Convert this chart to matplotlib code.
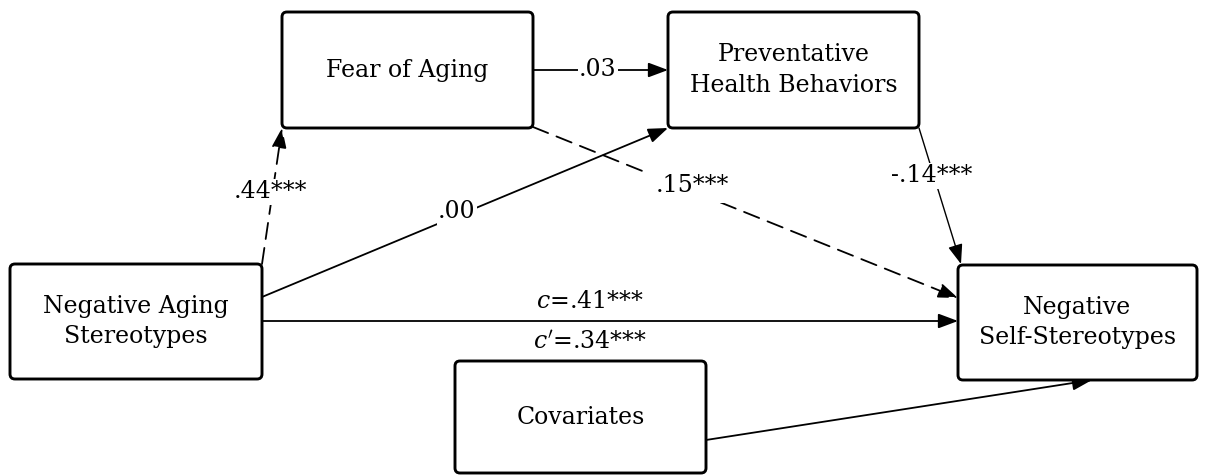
import matplotlib.pyplot as plt
from matplotlib.patches import FancyBboxPatch, FancyArrowPatch

# node labels and path coefficients
nodes = ['Fear of Aging', 'Preventative\nHealth Behaviors', 'Negative Aging\nStereotypes',
         'Negative\nSelf-Stereotypes', 'Covariates']
coef_a1 = '.44***'
coef_a2 = '.00'
coef_d = '.03'
coef_b1 = '.15***'
coef_b2 = '-.14***'
coef_c = r'$c$=.41***'
coef_cp = r"$c'$=.34***"

plt.rcParams['font.family'] = ['DejaVu Serif']
plt.rcParams['mathtext.fontset'] = 'dejavuserif'

fig = plt.figure(figsize=(12.06, 4.75), dpi=100)
ax = fig.add_axes([0, 0, 1, 1])
ax.set_xlim(0, 1206)
ax.set_ylim(475, 0)
ax.axis('off')

# box geometry (x0, y0, x1, y1) in pixels
boxes = [(282, 12, 533, 128), (668, 12, 919, 128), (10, 264, 262, 379),
         (958, 265, 1197, 380), (455, 361, 706, 473)]

for (x0, y0, x1, y1), name in zip(boxes, nodes):
    p = FancyBboxPatch((x0, y0), x1 - x0, y1 - y0, boxstyle='round,pad=0,rounding_size=5',
                       fc='white', ec='black', lw=2.1, zorder=3)
    ax.add_patch(p)
    ty = (y0 + y1) / 2
    if name == 'Fear of Aging':
        ty = 70
    ax.text((x0 + x1) / 2, ty, name, ha='center', va='center', fontsize=17,
            linespacing=1.4, zorder=4)


def arrow(p0, p1, dashed=False, lw=1.3):
    a = FancyArrowPatch(p0, p1, arrowstyle='-|>,head_length=7.5,head_width=2.8',
                        mutation_scale=1.6, lw=lw, color='black',
                        linestyle=(0, (9, 5)) if dashed else '-',
                        shrinkA=0, shrinkB=0, zorder=2)
    ax.add_patch(a)


arrow((262, 264), (282, 128), dashed=True)
arrow((262, 297), (668, 128))
arrow((533, 127), (958, 298), dashed=True)
arrow((533, 70), (668, 70))
arrow((919, 128), (961, 264), lw=1.0)
arrow((262, 321), (958, 321))
arrow((706, 440), (1092, 380))

lab = dict(ha='center', va='center', fontsize=17, zorder=5)
wbg = dict(boxstyle='square,pad=0.05', fc='white', ec='none')
ax.text(270, 192, coef_a1, bbox=wbg, **lab)
ax.text(457, 212, coef_a2, bbox=wbg, **lab)
ax.text(598, 70, coef_d, bbox=wbg, **lab)
ax.text(692, 186, coef_b1, bbox=dict(boxstyle='square,pad=0.25', fc='white', ec='none'), **lab)
ax.text(932, 176, coef_b2, bbox=wbg, **lab)
ax.text(590, 302, coef_c, **lab)
ax.text(590, 343, coef_cp, **lab)

fig.savefig('out.png', dpi=100, facecolor='white')
